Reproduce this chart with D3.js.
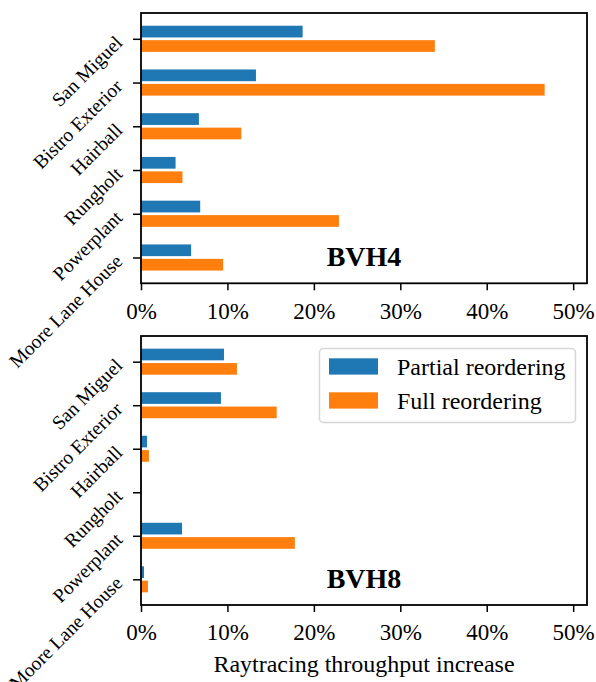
<!DOCTYPE html>
<html><head><meta charset="utf-8">
<script src="https://cdn.jsdelivr.net/npm/d3@7"></script>
<style>body{margin:0;background:#fff}svg{display:block}text{font-family:"Liberation Serif","Times New Roman",serif;fill:#000}</style>
</head><body><svg id="c" width="596" height="682"></svg>
<script>
const categories = ["San Miguel","Bistro Exterior","Hairball","Rungholt","Powerplant","Moore Lane House"];
const bvh4Partial = [18.7, 13.3, 6.7, 4.0, 6.85, 5.8];
const bvh4Full    = [34.0, 46.7, 11.6, 4.8, 22.9, 9.5];
const bvh8Partial = [9.6, 9.25, 0.7, 0.05, 4.75, 0.35];
const bvh8Full    = [11.1, 15.7, 0.92, 0.05, 17.8, 0.8];
const xTicks = [0, 10, 20, 30, 40, 50];
const seriesNames = ["Partial reordering", "Full reordering"];
const colors = ["#1f77b4", "#ff7f0e"];

const svg = d3.select("#c");
const L = 141, R = 587;
const x = d3.scaleLinear().domain([0, 51.6]).range([L, R]);

function panel(top, bottom, partial, full, title, showXLabel) {
  const y = d3.scaleLinear().domain([-0.59, 5.59]).range([top, bottom]);
  const g = svg.append("g");
  const data = [partial, full];
  const off = [-0.165, 0.165], h = 0.268;
  data.forEach((vals, s) => {
    g.selectAll(null).data(vals).enter().append("rect")
      .attr("x", x(0))
      .attr("y", (d, i) => y(i + off[s] - h / 2))
      .attr("width", d => x(d) - x(0))
      .attr("height", y(h) - y(0))
      .attr("fill", colors[s]);
  });
  // x axis
  const xa = d3.axisBottom(x).tickValues(xTicks).tickFormat(d => d + "%").tickSize(7).tickPadding(12);
  const gx = g.append("g").attr("transform", `translate(0,${bottom})`).call(xa);
  gx.select(".domain").remove();
  gx.selectAll(".tick line").attr("stroke", "#000").attr("stroke-width", 1.5);
  gx.selectAll(".tick text").style("font-size", "23px").style("font-family", "Liberation Serif").attr("fill", "#000");
  // y axis
  const ya = d3.axisLeft(y).tickValues(d3.range(categories.length)).tickFormat(i => categories[i]).tickSize(8).tickPadding(0);
  const gy = g.append("g").attr("transform", `translate(${L},0)`).call(ya);
  gy.select(".domain").remove();
  gy.selectAll(".tick line").attr("stroke", "#000").attr("stroke-width", 1.5);
  gy.selectAll(".tick text")
    .attr("x", null).attr("dy", null)
    .attr("text-anchor", "end")
    .attr("dominant-baseline", "central")
    .attr("transform", "translate(-22,0) rotate(-45)")
    .style("font-size", "19.5px").style("font-family", "Liberation Serif").attr("fill", "#000");
  // frame
  g.append("rect").attr("x", L).attr("y", top).attr("width", R - L).attr("height", bottom - top)
    .attr("fill", "none").attr("stroke", "#000").attr("stroke-width", 1.8);
  // title
  g.append("text").attr("x", (L + R) / 2).attr("y", y(5.2))
    .attr("text-anchor", "middle").style("font-size", "28px").style("font-weight", "bold").text(title);
  if (showXLabel) {
    g.append("text").attr("x", (L + R) / 2).attr("y", 671.5).attr("text-anchor", "middle")
      .style("font-size", "24px").text("Raytracing throughput increase");
  }
  return y;
}

panel(13, 283.3, bvh4Partial, bvh4Full, "BVH4", false);
panel(336, 605, bvh8Partial, bvh8Full, "BVH8", true);

// legend
const lg = svg.append("g");
lg.append("rect").attr("x", 319.5).attr("y", 348.5).attr("width", 256).attr("height", 74).attr("rx", 4)
  .attr("fill", "#fff").attr("fill-opacity", 0.8).attr("stroke", "#d6d6d6").attr("stroke-width", 1.5);
seriesNames.forEach((n, i) => {
  lg.append("rect").attr("x", 329).attr("y", 358.3 + i * 34).attr("width", 49).attr("height", 16.3).attr("fill", colors[i]);
  lg.append("text").attr("x", 397).attr("y", 375 + i * 33.5).style("font-size", "24px").text(n);
});
</script></body></html>
